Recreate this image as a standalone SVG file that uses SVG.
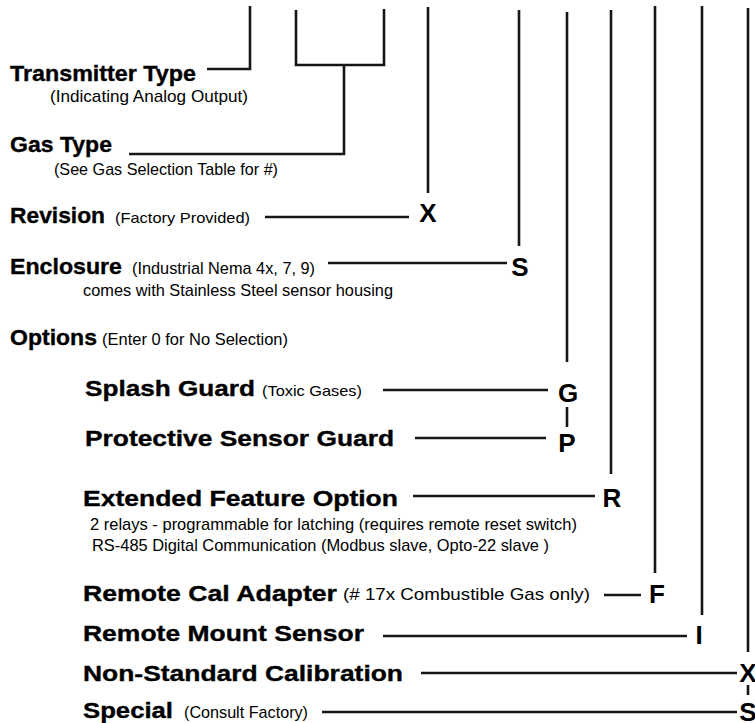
<svg xmlns="http://www.w3.org/2000/svg" width="755" height="723" viewBox="0 0 755 723">
<style>
.b{font-family:"Liberation Sans",Arial,sans-serif;font-weight:bold;font-size:22px;fill:#000;stroke:#000;stroke-width:0.35}
.r{font-family:"Liberation Sans",Arial,sans-serif;font-size:17px;fill:#000}
.s{font-size:15px}
.k{font-family:"Liberation Sans",Arial,sans-serif;font-weight:bold;font-size:26px;fill:#000;text-anchor:middle}
.c path{fill:none;stroke:#1a1414;stroke-width:2.6}
</style>
<rect width="755" height="723" fill="#fff"/>
<g class="c" id="connectors">
<path d="M207,69 H250 V6"/>
<path d="M296,10 V65 H384 V9"/>
<path d="M344,65 V154 H129"/>
<path d="M265,217 H409"/>
<path d="M428,7 V193"/>
<path d="M328,263 H507"/>
<path d="M519,10 V246"/>
<path d="M383,390 H548"/>
<path d="M567,12 V362"/>
<path d="M567,407 V427"/>
<path d="M415,438 H546"/>
<path d="M413,496 H595"/>
<path d="M611,10 V474"/>
<path d="M604,595 H641"/>
<path d="M655,6 V573"/>
<path d="M383,636 H687"/>
<path d="M702,6 V615"/>
<path d="M421,673 H737"/>
<path d="M748,8 V652"/>
<path d="M748,685 V695"/>
<path d="M322,712 H737"/>
</g>
<g id="transmitter">
<text class="b" x="10" y="81" textLength="186" lengthAdjust="spacingAndGlyphs">Transmitter Type</text>
<text class="r" x="50" y="102" textLength="198" lengthAdjust="spacingAndGlyphs">(Indicating Analog Output)</text>
</g>
<g id="gastype">
<text class="b" x="10" y="152" textLength="102" lengthAdjust="spacingAndGlyphs">Gas Type</text>
<text class="r" x="54" y="175" textLength="224" lengthAdjust="spacingAndGlyphs">(See Gas Selection Table for #)</text>
</g>
<g id="revision">
<text class="b" x="10" y="223" textLength="95" lengthAdjust="spacingAndGlyphs">Revision</text>
<text class="r s" x="115" y="223" textLength="135" lengthAdjust="spacingAndGlyphs">(Factory Provided)</text>
<text class="k" x="428" y="222">X</text>
</g>
<g id="enclosure">
<text class="b" x="10" y="274" textLength="112" lengthAdjust="spacingAndGlyphs">Enclosure</text>
<text class="r" x="132" y="274" textLength="183" lengthAdjust="spacingAndGlyphs">(Industrial Nema 4x, 7, 9)</text>
<text class="r" x="83" y="296" textLength="310" lengthAdjust="spacingAndGlyphs">comes with Stainless Steel sensor housing</text>
<text class="k" x="520" y="276">S</text>
</g>
<g id="options">
<text class="b" x="10" y="345" textLength="87" lengthAdjust="spacingAndGlyphs">Options</text>
<text class="r" x="102" y="345" textLength="186" lengthAdjust="spacingAndGlyphs">(Enter 0 for No Selection)</text>
</g>
<g id="splash">
<text class="b" x="85" y="396" textLength="170" lengthAdjust="spacingAndGlyphs">Splash Guard</text>
<text class="r s" x="262" y="396" textLength="100" lengthAdjust="spacingAndGlyphs">(Toxic Gases)</text>
<text class="k" x="568" y="402">G</text>
</g>
<g id="protective">
<text class="b" x="85" y="446" textLength="309" lengthAdjust="spacingAndGlyphs">Protective Sensor Guard</text>
<text class="k" x="567" y="452">P</text>
</g>
<g id="extended">
<text class="b" x="83" y="506" textLength="315" lengthAdjust="spacingAndGlyphs">Extended Feature Option</text>
<text class="r" x="90" y="530" textLength="487" lengthAdjust="spacingAndGlyphs">2 relays - programmable for latching (requires remote reset switch)</text>
<text class="r" x="92" y="551" textLength="457" lengthAdjust="spacingAndGlyphs">RS-485 Digital Communication (Modbus slave, Opto-22 slave )</text>
<text class="k" x="612" y="507">R</text>
</g>
<g id="remotecal">
<text class="b" x="83" y="601" textLength="254" lengthAdjust="spacingAndGlyphs">Remote Cal Adapter</text>
<text class="r" x="343" y="600" textLength="247" lengthAdjust="spacingAndGlyphs">(# 17x Combustible Gas only)</text>
<text class="k" x="657" y="603">F</text>
</g>
<g id="remotemount">
<text class="b" x="83" y="641" textLength="281" lengthAdjust="spacingAndGlyphs">Remote Mount Sensor</text>
<text class="k" x="699" y="644">I</text>
</g>
<g id="nonstandard">
<text class="b" x="83" y="681" textLength="320" lengthAdjust="spacingAndGlyphs">Non-Standard Calibration</text>
<text class="k" x="748" y="682">X</text>
</g>
<g id="special">
<text class="b" x="83" y="718" textLength="90" lengthAdjust="spacingAndGlyphs">Special</text>
<text class="r" x="184" y="718" textLength="124" lengthAdjust="spacingAndGlyphs">(Consult Factory)</text>
<text class="k" x="748" y="721">S</text>
</g>
</svg>
